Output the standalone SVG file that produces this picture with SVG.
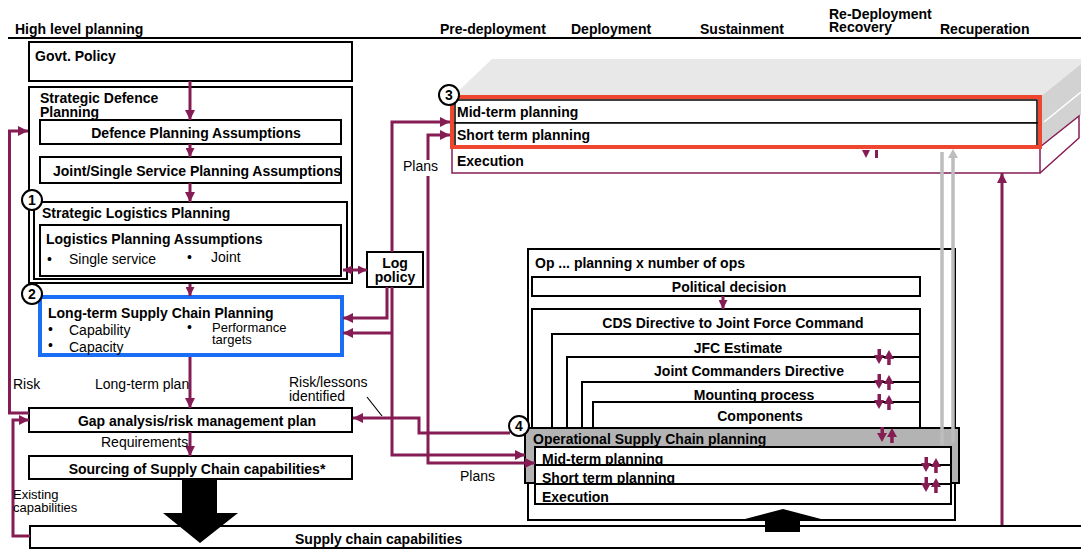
<svg xmlns="http://www.w3.org/2000/svg" width="1081" height="549" viewBox="0 0 1081 549">
<style>
text{font-family:"Liberation Sans",Arial,sans-serif;font-size:14px;font-weight:bold;fill:#000}
.n{font-weight:normal}
.sm{font-size:13px}
.m{text-anchor:middle}
.b{fill:#fff;stroke:#000;stroke-width:2}
.p{fill:none;stroke:#861c54;stroke-width:3}
.g{fill:none;stroke:#bdbdbd;stroke-width:3.5}
.c{fill:#fff;stroke:#000;stroke-width:2}
</style>
<defs>
<marker id="a" viewBox="0 0 10 10" refX="10" refY="5" markerWidth="10" markerHeight="10" markerUnits="userSpaceOnUse" orient="auto-start-reverse"><path d="M0,0L10,5L0,10z" fill="#861c54"/></marker>
<marker id="s" viewBox="0 0 10 10" refX="10" refY="5" markerWidth="9" markerHeight="9" markerUnits="userSpaceOnUse" orient="auto-start-reverse"><path d="M0,0L10,5L0,10z" fill="#861c54"/></marker>
<g id="dbl" fill="#861c54">
<rect x="-6.5" y="-8" width="3.5" height="7"/>
<polygon points="-10,-2 0,-2 -5,7"/>
<polygon points="0,2 10,2 5,-7"/>
<rect x="3.2" y="1" width="3.5" height="7"/>
</g>
</defs>

<g id="header">
<text x="15" y="34">High level planning</text>
<text x="440" y="34">Pre-deployment</text>
<text x="571" y="34">Deployment</text>
<text x="700" y="34">Sustainment</text>
<text x="829" y="19">Re-Deployment</text>
<text x="829" y="32">Recovery</text>
<text x="940" y="34">Recuperation</text>
<line x1="8" y1="38" x2="1081" y2="38" stroke="#000" stroke-width="2"/>
</g>

<g id="govt-policy">
<rect class="b" x="29" y="42" width="323" height="39"/>
<text x="35" y="61">Govt. Policy</text>
</g>

<g id="strategic-defence-planning">
<rect class="b" x="29" y="87" width="323" height="196"/>
<text x="40" y="103">Strategic Defence</text>
<text x="40" y="117">Planning</text>
</g>

<g id="defence-planning-assumptions">
<rect class="b" x="40" y="120" width="301" height="24"/>
<text class="m" x="196" y="138">Defence Planning Assumptions</text>
</g>

<g id="joint-single-assumptions">
<rect class="b" x="40" y="157" width="301" height="26"/>
<text class="m" x="197" y="176">Joint/Single Service Planning Assumptions</text>
</g>

<g id="strategic-logistics-planning">
<rect class="b" x="34" y="202" width="313" height="77"/>
<text x="42" y="218">Strategic Logistics Planning</text>
<rect class="b" x="40" y="225" width="301" height="51"/>
<text x="46" y="244">Logistics Planning Assumptions</text>
<text class="n" x="47" y="264">•</text>
<text class="n" x="69" y="264">Single service</text>
<text class="n" x="187" y="262">•</text>
<text class="n" x="211" y="262">Joint</text>
</g>

<g id="circle-1"><circle class="c" cx="32" cy="200" r="10"/><text class="m" x="32" y="205">1</text></g>

<g id="long-term-scp">
<rect x="40" y="297" width="302" height="58" fill="#fff" stroke="#1a6ef5" stroke-width="4"/>
<text x="48" y="318">Long-term Supply Chain Planning</text>
<text class="n" x="48" y="334">•</text>
<text class="n" x="69" y="335">Capability</text>
<text class="n" x="48" y="350">•</text>
<text class="n" x="69" y="352">Capacity</text>
<text class="n" x="187" y="332">•</text>
<text class="n sm" x="212" y="332">Performance</text>
<text class="n sm" x="212" y="344">targets</text>
</g>

<g id="circle-2"><circle class="c" cx="32" cy="294" r="10"/><text class="m" x="32" y="299">2</text></g>

<g id="log-policy">
<rect class="b" x="367" y="252" width="56" height="35"/>
<text class="m" x="395" y="268">Log</text>
<text class="m" x="395" y="282">policy</text>
</g>

<g id="gap-analysis">
<rect class="b" x="29" y="408" width="323" height="24"/>
<text class="m" x="197" y="426">Gap analysis/risk management plan</text>
</g>

<g id="sourcing">
<rect class="b" x="29" y="456" width="323" height="23"/>
<text class="m" x="197" y="474">Sourcing of Supply Chain capabilities*</text>
</g>

<g id="supply-chain-capabilities">
<rect class="b" x="30" y="526" width="1070" height="22"/>
<text x="295" y="544">Supply chain capabilities</text>
</g>

<g id="campaign-planning-3">
<polygon points="492,59 1081,59 1081,64 1040,97 452,97" fill="#e8e8e8"/>
<polygon points="1040,97 1081,64 1081,115 1042,145" fill="#d2d2d2"/>
<line x1="1044" y1="122" x2="1081" y2="92" stroke="#fff" stroke-width="1.5"/>
<polygon points="1040,147 1079,116 1079,138 1040,173" fill="#fff"/>
<path d="M1040,147L1079,116V138L1040,173" fill="none" stroke="#861c54" stroke-width="1.5"/>
<rect x="452" y="147" width="588" height="26" fill="#fff" stroke="#861c54" stroke-width="1.5"/>
<text x="457" y="166">Execution</text>
<polygon points="862,150 870,150 866,158" fill="#861c54"/>
<rect x="875" y="150" width="3" height="8" fill="#861c54"/>
<rect x="455" y="100" width="582" height="23" fill="#fff" stroke="#000" stroke-width="1.5"/>
<text x="457" y="117">Mid-term planning</text>
<rect x="455" y="123" width="582" height="23" fill="#fff" stroke="#000" stroke-width="1.5"/>
<text x="457" y="140">Short term planning</text>
<rect x="452" y="97" width="588" height="50" fill="none" stroke="#ef4630" stroke-width="4"/>
</g>

<g id="circle-3"><circle class="c" cx="449" cy="95" r="10"/><text class="m" x="449" y="100">3</text></g>

<g id="op-planning">
<rect class="b" x="528" y="249" width="427" height="271"/>
<text x="535" y="268">Op ... planning x number of ops</text>
<rect class="b" x="532" y="277" width="388" height="19"/>
<text class="m" x="729" y="292">Political decision</text>
<rect class="b" x="532" y="309" width="388" height="130"/>
<text class="m" x="733" y="328">CDS Directive to Joint Force Command</text>
<rect class="b" x="552" y="334" width="368" height="105"/>
<text class="m" x="738" y="353">JFC Estimate</text>
<rect class="b" x="567" y="357" width="353" height="82"/>
<text class="m" x="749" y="376">Joint Commanders Directive</text>
<rect class="b" x="582" y="382" width="338" height="57"/>
<text class="m" x="754" y="400">Mounting process</text>
<rect class="b" x="593" y="402" width="327" height="26"/>
<text class="m" x="760" y="421">Components</text>
<use href="#dbl" x="884" y="357"/>
<use href="#dbl" x="884" y="382"/>
<use href="#dbl" x="884" y="402"/>
</g>

<g id="operational-scp">
<rect x="525" y="428" width="434" height="55" fill="#b3b3b3" stroke="#000" stroke-width="2"/>
<text x="533" y="444">Operational Supply Chain planning</text>
<rect class="b" x="535" y="447" width="416" height="18"/>
<text x="542" y="464">Mid-term planning</text>
<rect class="b" x="535" y="465" width="416" height="19"/>
<text x="542" y="483">Short term planning</text>
<rect class="b" x="535" y="484" width="416" height="20"/>
<text x="542" y="502">Execution</text>
<use href="#dbl" x="887" y="435"/>
<use href="#dbl" x="931" y="465"/>
<use href="#dbl" x="931" y="485"/>
</g>

<g id="circle-4"><circle class="c" cx="519" cy="426" r="10"/><text class="m" x="519" y="431">4</text></g>

<g id="connectors">
<path class="p" d="M190,81V120" marker-end="url(#a)"/>
<path class="p" d="M190,144V157" marker-end="url(#s)"/>
<path class="p" d="M190,183V202" marker-end="url(#a)"/>
<path class="p" d="M190,284V296" marker-end="url(#s)"/>
<path class="p" d="M190,357V408" marker-end="url(#a)"/>
<path class="p" d="M190,432V456" marker-end="url(#a)"/>
<path class="p" d="M29,413H9.5V131H28" marker-end="url(#a)"/>
<path class="p" d="M30,536H13V420H29" marker-end="url(#a)"/>
<path class="p" d="M343,270H367" marker-start="url(#s)" marker-end="url(#s)"/>
<path class="p" d="M387,287V318H343" marker-end="url(#a)"/>
<path class="p" d="M392,252V122H450" marker-end="url(#a)"/>
<path class="p" d="M392,287V455H525" marker-end="url(#a)"/>
<path class="p" d="M392,333H343" marker-end="url(#a)"/>
<path class="p" d="M428,160V135H450" marker-end="url(#a)"/>
<path class="p" d="M428,176V463H535" marker-end="url(#a)"/>
<path class="p" d="M510,433H419V418H353" marker-end="url(#a)"/>
<path d="M367,397L382,416" stroke="#000" stroke-width="1.2" fill="none"/>
<path class="p" d="M723,296V309" marker-end="url(#s)"/>
<path class="p" d="M1002,525V173" marker-end="url(#a)"/>
<path class="g" d="M942,152V445"/>
<path class="g" d="M953,157V443"/>
<polygon points="948,158 958,158 953,149" fill="#bdbdbd"/>
<polygon points="182,480 217,480 217,513 238,513 200,543 163,513 182,513" fill="#000"/>
<polygon points="765,532 800,532 800,519 821,519 783,509 745,519 765,519" fill="#000"/>
</g>

<g id="labels">
<text class="n" x="403" y="171">Plans</text>
<text class="n" x="460" y="481">Plans</text>
<text class="n" x="13" y="389">Risk</text>
<text class="n" x="95" y="389">Long-term plan</text>
<text class="n" x="101" y="447">Requirements</text>
<text class="n" x="289" y="387">Risk/lessons</text>
<text class="n" x="289" y="401">identified</text>
<text class="n sm" x="13" y="499">Existing</text>
<text class="n sm" x="13" y="512">capabilities</text>
</g>
</svg>
